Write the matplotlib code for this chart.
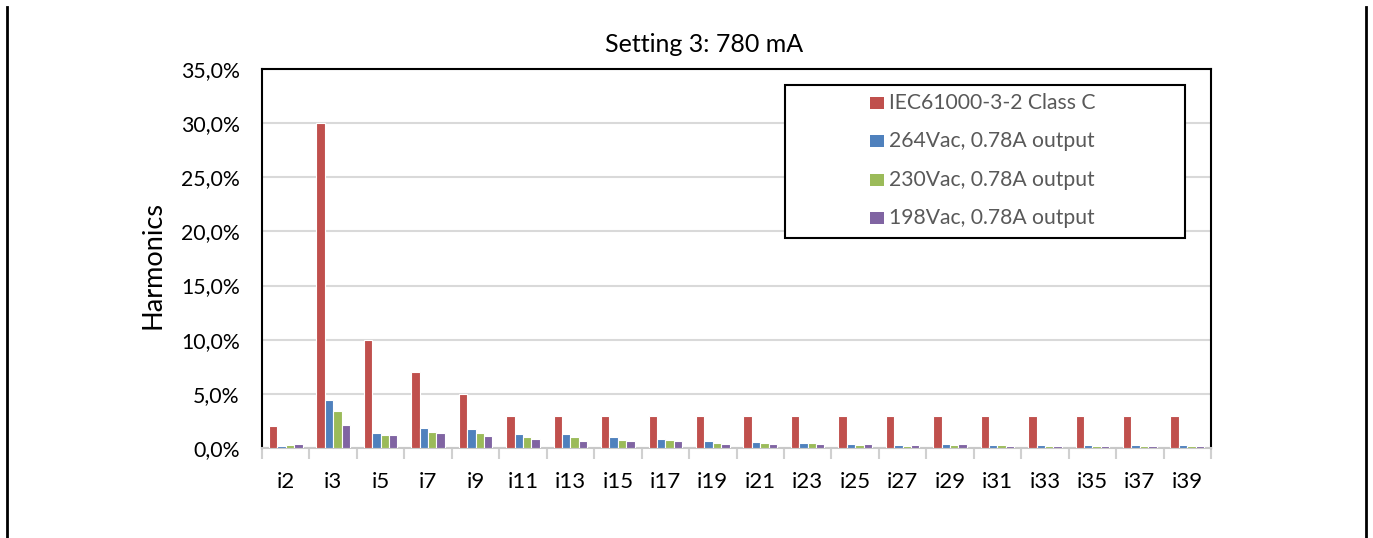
import matplotlib
matplotlib.use("Agg")
import matplotlib.pyplot as plt
import numpy as np
from matplotlib.ticker import FuncFormatter, FixedLocator
from matplotlib.lines import Line2D
from matplotlib.patches import Rectangle

categories = ["i2", "i3", "i5", "i7", "i9", "i11", "i13", "i15", "i17", "i19",
              "i21", "i23", "i25", "i27", "i29", "i31", "i33", "i35", "i37", "i39"]
iec_class_c = [2.0, 30.0, 10.0, 7.0, 5.0, 3.0, 3.0, 3.0, 3.0, 3.0,
               3.0, 3.0, 3.0, 3.0, 3.0, 3.0, 3.0, 3.0, 3.0, 3.0]
v264 = [0.22, 4.4, 1.42, 1.85, 1.73, 1.29, 1.26, 0.98, 0.86, 0.61,
        0.52, 0.42, 0.33, 0.31, 0.33, 0.31, 0.31, 0.31, 0.31, 0.28]
v230 = [0.28, 3.4, 1.2, 1.5, 1.42, 0.99, 1.02, 0.77, 0.74, 0.49,
        0.49, 0.49, 0.31, 0.2, 0.28, 0.25, 0.22, 0.15, 0.18, 0.18]
v198 = [0.4, 2.1, 1.2, 1.36, 1.14, 0.8, 0.68, 0.67, 0.61, 0.4,
        0.4, 0.4, 0.33, 0.28, 0.33, 0.2, 0.22, 0.22, 0.18, 0.15]
series_names = ["IEC61000-3-2 Class C", "264Vac, 0.78A output",
                "230Vac, 0.78A output", "198Vac, 0.78A output"]
colors = ["#C0504D", "#4F81BD", "#9BBB59", "#8064A2"]

font = ["Lato", "DejaVu Sans"]
plt.rcParams["font.family"] = font

W, H = 1373, 538
fig = plt.figure(figsize=(W / 100, H / 100), dpi=100)
ax = fig.add_axes([262 / W, 1 - 448 / H, (1211 - 262) / W, (448 - 69) / H])

x = np.arange(len(categories))
bw = 0.177
data = [iec_class_c, v264, v230, v198]
for i, (vals, c, name) in enumerate(zip(data, colors, series_names)):
    ax.bar(x + (i - 1.5) * bw, vals, width=bw, color=c, edgecolor="white",
           linewidth=0.8, label=name, zorder=3)

ax.set_xlim(-0.5, len(categories) - 0.5)
ax.set_ylim(0, 35)
ax.set_yticks(np.arange(0, 35.1, 5))
ax.yaxis.set_major_formatter(FuncFormatter(lambda v, p: f"{v:.1f}".replace(".", ",") + "%"))
ax.set_xticks(x)
ax.set_xticklabels(categories)
ax.xaxis.set_minor_locator(FixedLocator(np.arange(-0.5, len(categories), 1.0)))
ax.tick_params(axis="x", which="major", length=0, pad=17, labelsize=16)
ax.tick_params(axis="x", which="minor", length=8, width=1.5, color="#D0D0D0")
ax.tick_params(axis="y", length=0, pad=16, labelsize=15.3)
ax.grid(axis="y", color="#D9D9D9", linewidth=1.5, zorder=0)
ax.set_axisbelow(True)
for s in ["left", "top", "right"]:
    ax.spines[s].set_color("black")
    ax.spines[s].set_linewidth(1.5)
ax.spines["bottom"].set_color("#C8C8C8")
ax.spines["bottom"].set_linewidth(1.5)

fig.text(153 / W, 1 - 265 / H, "Harmonics", rotation=90, ha="center", va="center", fontsize=19.5)
fig.text(704 / W, 1 - 45 / H, "Setting 3: 780 mA", ha="center", va="center", fontsize=18)

# legend box (Excel style, manual layout)
def px(xp, yp):
    return xp / W, 1 - yp / H

lx0, ly0 = px(785, 238)
fig.add_artist(Rectangle((lx0, ly0), 400 / W, 153 / H, transform=fig.transFigure,
                         facecolor="white", edgecolor="black", linewidth=1.5, zorder=5))
row_y = [103, 141.3, 179.6, 218]
for name, c, yy in zip(series_names, colors, row_y):
    rx, ry = px(870, yy + 6)
    fig.add_artist(Rectangle((rx, ry), 14 / W, 12 / H, transform=fig.transFigure,
                             facecolor=c, edgecolor="none", zorder=6))
    tx, ty = px(889, yy)
    fig.text(tx, ty, name, ha="left", va="center", fontsize=15.2, color="#595959", zorder=6)

# page border lines
fig.add_artist(Line2D([7 / W, 7 / W], [0, 1 - 7 / H], transform=fig.transFigure, color="black", linewidth=2))
fig.add_artist(Line2D([1366 / W, 1366 / W], [0, 1 - 7 / H], transform=fig.transFigure, color="black", linewidth=2))

fig.savefig("out.png", dpi=100)
